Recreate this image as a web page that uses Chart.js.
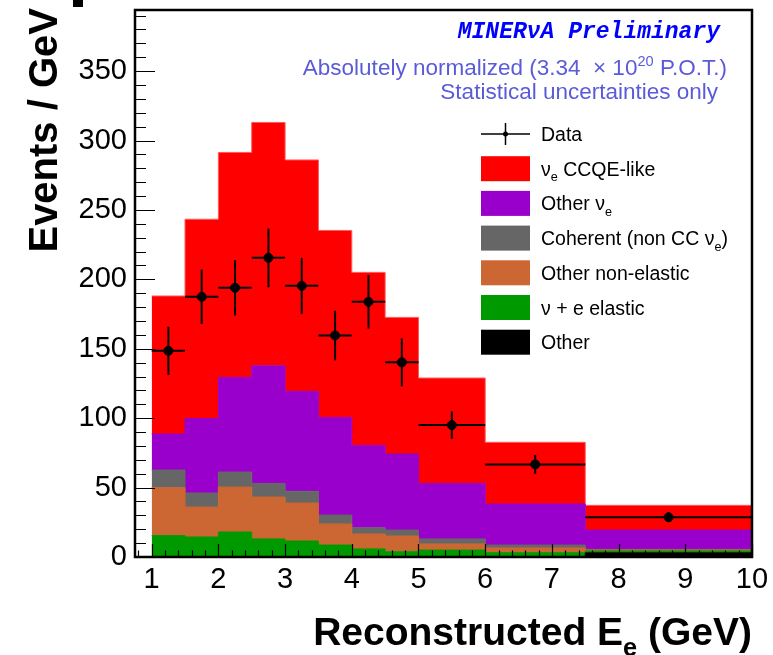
<!DOCTYPE html>
<html>
<head>
<meta charset="utf-8">
<script src="https://cdn.jsdelivr.net/npm/chart.js@4.4.1/dist/chart.umd.min.js"></script>
<style>
  html, body { margin: 0; padding: 0; background: #ffffff; }
  #wrap { width: 773px; height: 655px; position: relative; }
</style>
</head>
<body>
<div id="wrap"><canvas id="c" width="773" height="655"></canvas></div>
<script>
// Reconstructed electron energy bins (GeV), variable width
const binEdges = [1, 1.5, 2, 2.5, 3, 3.5, 4, 4.5, 5, 6, 7.5, 10];

// Simulated components, events / GeV per bin (stacked bottom to top)
const otherBkg          = [0, 0, 0, 0, 0, 0, 0, 0, 0, 0, 3.0];
const nuElectronElastic = [15.4, 14.4, 18.0, 13.0, 11.5, 8.6, 5.8, 3.8, 5.0, 3.1, 1.3];
const otherNonElastic   = [34.5, 21.6, 32.4, 30.2, 27.4, 15.2, 10.8, 11.3, 4.4, 3.4, 0.7];
const coherentNonCC     = [12.7, 10.1, 10.8, 9.8, 8.4, 6.4, 4.4, 4.3, 3.6, 2.1, 0.5];
const otherNuE          = [26.0, 53.7, 68.2, 84.7, 72.0, 70.4, 59.4, 54.8, 40.0, 29.6, 13.9];
const nuECCQELike       = [99.4, 143.5, 162.0, 175.3, 166.7, 134.6, 124.6, 98.4, 75.9, 44.4, 17.8];

// Measured data, events / GeV, with statistical uncertainties
const dataCenters = [1.25, 1.75, 2.25, 2.75, 3.25, 3.75, 4.25, 4.75, 5.5, 6.75, 8.75];
const dataValues  = [148.5, 187.4, 193.9, 215.5, 195.3, 159.6, 183.8, 140.2, 95.0, 66.7, 28.6];
const dataErrors  = [17.4, 19.6, 20.0, 21.2, 20.0, 17.8, 19.3, 17.3, 9.8, 6.7, 3.4];

// Axis labels
const xTickValues = [1, 2, 3, 4, 5, 6, 7, 8, 9, 10];
const yTickValues = [0, 50, 100, 150, 200, 250, 300, 350];

const X_MIN = 0.75, X_MAX = 10, Y_MIN = 0, Y_MAX = 394;
const X_MINOR = 0.2, Y_MINOR = 10;

const SANS = "'Liberation Sans', Arial, Helvetica, sans-serif";

// Components: bottom of the stack first
const components = [
  { label: 'Other',                    values: otherBkg,          color: '#000000', edge: '#000000' },
  { label: 'ν + e elastic',            values: nuElectronElastic, color: '#009900', edge: '#009900' },
  { label: 'Other non-elastic',        values: otherNonElastic,   color: '#cc6633', edge: '#cc6633' },
  { label: 'Coherent (non CC ν_{e})',  values: coherentNonCC,     color: '#666666', edge: '#666666' },
  { label: 'Other ν_{e}',              values: otherNuE,          color: '#9900cc', edge: '#9900cc' },
  { label: 'ν_{e} CCQE-like',          values: nuECCQELike,       color: '#ff0000', edge: '#ff5a5a' }
];

// Step outline: one point per bin edge, the last bin value repeated at the upper edge
function stepPoints(values) {
  return binEdges.map((x, i) => ({ x: x, y: values[Math.min(i, values.length - 1)] }));
}

const datasets = components.map((c, i) => ({
  label: c.label,
  data: stepPoints(c.values),
  stepped: true,
  fill: i === 0 ? 'origin' : '-1',
  backgroundColor: c.color,
  borderColor: c.edge,
  borderWidth: 1,
  pointRadius: 0,
  order: 1
}));

datasets.push({
  label: 'Data',
  data: dataCenters.map((x, i) => ({ x: x, y: dataValues[i] })),
  showLine: false,
  stack: 'data',
  pointRadius: 4.5,
  pointBackgroundColor: '#000000',
  pointBorderColor: '#000000',
  borderColor: '#000000',
  order: 0
});

// Text with _{sub} and ^{sup} markup
function parseRich(str) {
  const out = [];
  const re = /([_^])\{([^}]*)\}/g;
  let last = 0, m;
  while ((m = re.exec(str)) !== null) {
    if (m.index > last) out.push({ t: str.slice(last, m.index), k: 'n' });
    out.push({ t: m[2], k: m[1] === '_' ? 'sub' : 'sup' });
    last = re.lastIndex;
  }
  if (last < str.length) out.push({ t: str.slice(last), k: 'n' });
  return out;
}
function richWidth(ctx, str, size, weight, family) {
  let w = 0;
  for (const s of parseRich(str)) {
    const fs = s.k === 'n' ? size : size * 0.65;
    ctx.font = `${weight} ${fs}px ${family}`;
    w += ctx.measureText(s.t).width;
  }
  return w;
}
function drawRich(ctx, str, x, y, size, weight, family, align) {
  let cx = x;
  if (align === 'right') cx = x - richWidth(ctx, str, size, weight, family);
  ctx.textBaseline = 'alphabetic';
  ctx.textAlign = 'left';
  for (const s of parseRich(str)) {
    let fs = size, dy = 0;
    if (s.k === 'sub') { fs = size * 0.65; dy = size * 0.28; }
    if (s.k === 'sup') { fs = size * 0.65; dy = -size * 0.42; }
    ctx.font = `${weight} ${fs}px ${family}`;
    ctx.fillText(s.t, cx, y + dy);
    cx += ctx.measureText(s.t).width;
  }
}

// Error bars: horizontal over the bin width, vertical over the uncertainty
const errorBarPlugin = {
  id: 'errorBars',
  afterDatasetsDraw(chart) {
    const { ctx, scales: { x, y } } = chart;
    ctx.save();
    ctx.strokeStyle = '#000000';
    ctx.lineWidth = 2;
    dataCenters.forEach((c, i) => {
      const lo = binEdges[i], hi = binEdges[i + 1];
      const py = y.getPixelForValue(dataValues[i]);
      const px = x.getPixelForValue(c);
      ctx.beginPath();
      ctx.moveTo(x.getPixelForValue(lo), py);
      ctx.lineTo(x.getPixelForValue(hi), py);
      ctx.moveTo(px, y.getPixelForValue(dataValues[i] + dataErrors[i]));
      ctx.lineTo(px, y.getPixelForValue(dataValues[i] - dataErrors[i]));
      ctx.stroke();
    });
    ctx.restore();
  }
};

// Frame with inward tick marks, titles, legend and annotations
const framePlugin = {
  id: 'frame',
  afterDraw(chart) {
    const { ctx, chartArea: a, scales: { x, y } } = chart;
    ctx.save();

    // inward tick marks
    ctx.strokeStyle = '#000000';
    ctx.lineWidth = 1.2;
    ctx.beginPath();
    for (let v = Y_MIN; v <= Y_MAX + 1e-9; v += Y_MINOR) {
      const py = Math.round(y.getPixelForValue(v)) + 0.5;
      const major = Math.abs(v % 50) < 1e-6;
      ctx.moveTo(a.left, py);
      ctx.lineTo(a.left + (major ? 20 : 11), py);
    }
    const firstMinor = Math.ceil(X_MIN / X_MINOR) * X_MINOR;
    for (let v = firstMinor; v <= X_MAX + 1e-9; v += X_MINOR) {
      const px = Math.round(x.getPixelForValue(v)) + 0.5;
      const major = Math.abs(v - Math.round(v)) < 1e-6;
      ctx.moveTo(px, a.bottom);
      ctx.lineTo(px, a.bottom - (major ? 13 : 6.5));
    }
    ctx.stroke();

    // frame
    ctx.lineWidth = 2.5;
    ctx.strokeRect(a.left, a.top, a.right - a.left, a.bottom - a.top);

    // axis titles
    ctx.fillStyle = '#000000';
    drawRich(ctx, 'Reconstructed E_{e} (GeV)', a.right, 645, 39, 'bold', SANS, 'right');
    ctx.save();
    ctx.translate(57, 8);
    ctx.rotate(-Math.PI / 2);
    drawRich(ctx, 'Events / GeV', 0, 0, 40, 'bold', SANS, 'right');
    ctx.restore();

    // annotations
    ctx.fillStyle = '#0000ff';
    ctx.font = `italic bold 23px 'Liberation Mono', 'Courier New', monospace`;
    ctx.textAlign = 'right';
    ctx.textBaseline = 'middle';
    ctx.fillText('MINERνA Preliminary', 720, 32);
    ctx.fillStyle = '#5b5bd9';
    drawRich(ctx, 'Absolutely normalized (3.34  × 10^{20} P.O.T.)', 727, 75, 22.5, 'normal', SANS, 'right');
    drawRich(ctx, 'Statistical uncertainties only', 718, 99, 22.5, 'normal', SANS, 'right');

    // legend
    const rowY0 = 134, rowDy = 34.7, boxL = 481, boxR = 530, boxH = 25, textX = 541;
    const entries = [{ label: 'Data', data: true }].concat(components.slice().reverse());
    entries.forEach((e, i) => {
      const cy = rowY0 + i * rowDy;
      if (e.data) {
        ctx.strokeStyle = '#000000';
        ctx.lineWidth = 1.5;
        ctx.beginPath();
        ctx.moveTo(boxL, cy); ctx.lineTo(boxR, cy);
        ctx.moveTo((boxL + boxR) / 2, cy - 11); ctx.lineTo((boxL + boxR) / 2, cy + 11);
        ctx.stroke();
        ctx.fillStyle = '#000000';
        ctx.beginPath();
        ctx.arc((boxL + boxR) / 2, cy, 2.5, 0, Math.PI * 2);
        ctx.fill();
      } else {
        ctx.fillStyle = e.color;
        ctx.fillRect(boxL, cy - boxH / 2, boxR - boxL, boxH);
      }
      ctx.fillStyle = '#000000';
      drawRich(ctx, e.label, textX, cy + 7, 19.5, 'normal', SANS, 'left');
    });

    ctx.fillStyle = '#000000';
    ctx.fillRect(73, 0, 10, 7);
    ctx.restore();
  }
};

new Chart(document.getElementById('c'), {
  type: 'line',
  data: { datasets: datasets },
  plugins: [errorBarPlugin, framePlugin],
  options: {
    responsive: false,
    animation: false,
    events: [],
    layout: { autoPadding: false, padding: { left: 0, top: 10, right: 21, bottom: 0 } },
    plugins: { legend: { display: false }, tooltip: { enabled: false } },
    scales: {
      x: {
        type: 'linear',
        min: X_MIN,
        max: X_MAX,
        grid: { display: false, drawTicks: false },
        border: { display: false },
        ticks: {
          autoSkip: false, maxRotation: 0, padding: 6,
          color: '#000000',
          font: { family: SANS, size: 29 }
        },
        afterBuildTicks: s => { s.ticks = xTickValues.map(v => ({ value: v })); },
        afterFit: s => { s.height = 98; s.paddingLeft = 0; s.paddingRight = 0; }
      },
      y: {
        type: 'linear',
        stacked: true,
        min: Y_MIN,
        max: Y_MAX,
        grid: { display: false, drawTicks: false },
        border: { display: false },
        ticks: {
          padding: 8,
          color: '#000000',
          font: { family: SANS, size: 29 }
        },
        afterBuildTicks: s => { s.ticks = yTickValues.map(v => ({ value: v })); },
        afterFit: s => { s.width = 135; s.paddingTop = 0; s.paddingBottom = 0; }
      }
    }
  }
});
</script>
</body>
</html>
